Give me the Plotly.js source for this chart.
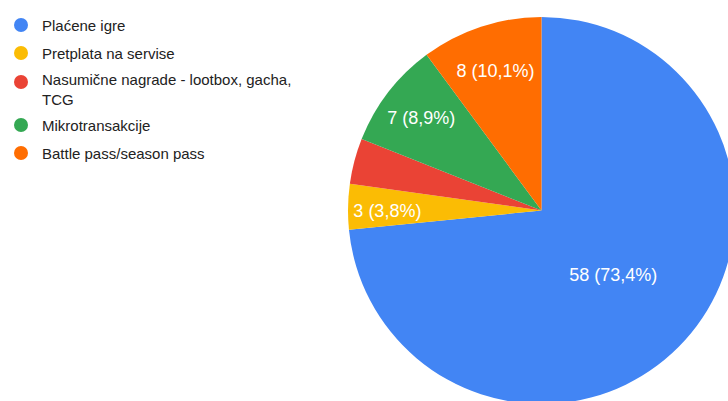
<!DOCTYPE html>
<html>
<head>
<meta charset="utf-8">
<script src="https://cdn.plot.ly/plotly-3.0.1.min.js"></script>
<style>
html,body{margin:0;padding:0;overflow:hidden;background:#fff;}
#chart{width:740px;height:410px;}
</style>
</head>
<body>
<div id="chart"></div>
<script>
var labels = ["Plaćene igre", "Pretplata na servise", "Nasumične nagrade - lootbox, gacha, TCG", "Mikrotransakcije", "Battle pass/season pass"];
var legendText = ["Plaćene igre", "Pretplata na servise", "Nasumične nagrade - lootbox, gacha,<br>TCG", "Mikrotransakcije", "Battle pass/season pass"];
var values = [58, 3, 3, 7, 8];
var colors = ["#4285f4", "#fbbc04", "#ea4335", "#34a853", "#ff6d01"];
var showText = [true, true, false, true, true];

var L = 348, T = 17;
var legendMarkerY = [25, 53, 82, 125, 153];
var legendTextY = [25, 53, 89.5, 125, 153];
var shapes = [], annotations = [];
for (var i = 0; i < labels.length; i++) {
  var cy = legendMarkerY[i];
  shapes.push({type:'circle', xref:'paper', yref:'paper', xsizemode:'pixel', ysizemode:'pixel',
    xanchor:0, yanchor:1, x0:21-L-7, x1:21-L+7, y0:-(cy-T)-7, y1:-(cy-T)+7,
    fillcolor:colors[i], line:{width:0}});
  annotations.push({xref:'paper', yref:'paper', x:0, y:1, xanchor:'left', yanchor:'middle',
    align:'left', xshift:40-L, yshift:-(legendTextY[i] - T), showarrow:false, text:legendText[i],
    font:{family:'Arial, Liberation Sans, sans-serif', size:15, color:'#222222'}});
}

var data = [{
  type:'pie', labels:labels, values:values, sort:false, direction:'clockwise', rotation:0,
  marker:{colors:colors, line:{width:0}},
  texttemplate: showText.map(function(s){return s ? '%{value} (%{percent:.1%})' : '';}),
  textposition:'inside', insidetextorientation:'horizontal',
  textfont:{family:'Arial, Liberation Sans, sans-serif', size:18, color:'#ffffff'},
  hoverinfo:'none', showlegend:false
}];

var layout = {
  width:740, height:410,
  margin:{l:L, r:5, t:T, b:6},
  separators:', ',
  paper_bgcolor:'#ffffff', plot_bgcolor:'#ffffff',
  shapes:shapes, annotations:annotations, showlegend:false
};
Plotly.newPlot('chart', data, layout, {displayModeBar:false, staticPlot:true});
</script>
</body>
</html>
